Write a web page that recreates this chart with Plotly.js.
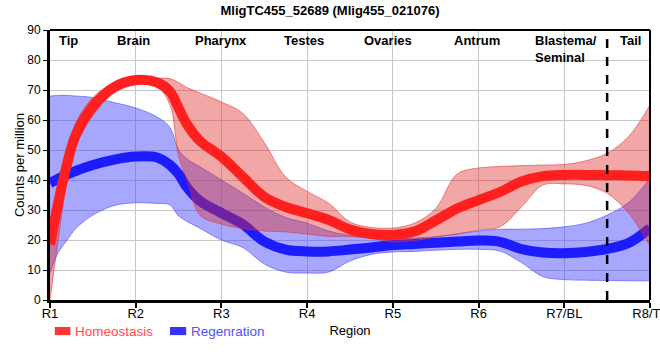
<!DOCTYPE html>
<html>
<head>
<meta charset="utf-8">
<script src="https://cdn.plot.ly/plotly-3.0.1.min.js"></script>
<style>
  html, body { margin: 0; padding: 0; background: #fff; }
  #chart { width: 660px; height: 360px; }
</style>
</head>
<body>
<div id="chart"></div>
<script>
// ---- data ----
const regionTicks = [1, 2, 3, 4, 5, 6, 7, 8];
const regionTickLabels = ['R1', 'R2', 'R3', 'R4', 'R5', 'R6', 'R7/BL', 'R8/TL'];
const regionNames = ['Tip', 'Brain', 'Pharynx', 'Testes', 'Ovaries', 'Antrum', 'Blastema/<br>Seminal', 'Tail'];

const xs = [1, 1.1, 1.2, 1.3, 1.5, 1.75, 2, 2.25, 2.4, 2.5, 2.6, 2.75, 3, 3.25, 3.5, 3.75,
            4, 4.25, 4.5, 4.75, 5, 5.25, 5.5, 5.75, 6, 6.25, 6.5, 6.75, 7, 7.25, 7.5, 7.75, 8];

const homMean = [18.5, 33, 45.5, 55, 64.5, 71, 73.3, 72.5, 69.5, 64, 58.5, 53, 47.8, 41, 34.4, 31,
                 28.9, 26.7, 23.5, 22, 21.7, 22.8, 26.5, 30.5, 33.3, 36, 39.5, 41.3, 41.7, 41.7, 41.6, 41.5, 41.3];
const homHi   = [22, 38, 50, 59, 67.5, 72.5, 74.4, 74, 73.8, 72.5, 70.8, 69, 66, 62.2, 52.5, 41,
                 36.2, 32.3, 26, 24.2, 24, 25.6, 30.5, 42, 44, 44.5, 44.8, 45, 45.2, 46.4, 48.9, 54.5, 65];
const homLo   = [0, 21, 40, 51, 61.5, 69, 71.7, 71, 65, 48, 40, 28.3, 25.3, 23.8, 23, 22.7,
                 22, 21.2, 21.2, 20.5, 19.4, 19.8, 21, 22, 23.3, 24.4, 31, 38.3, 38.7, 38.2, 35.6, 29, 18];

const regMean = [39, 40.5, 41.8, 43, 45, 46.8, 47.8, 47.5, 45, 42, 37.5, 33, 29, 25.2, 19.5, 16.8,
                 16.2, 16.2, 16.8, 17.5, 18.3, 18.7, 19.1, 19.5, 19.8, 19.4, 17, 15.8, 15.6, 16, 17, 19, 24];
const regHi   = [68, 68.2, 68.2, 68, 67.5, 65.8, 64, 61, 57.5, 50, 47, 44.4, 40, 35.6, 31, 27.5,
                 25.6, 23, 21.5, 20.7, 20.3, 20.7, 21.1, 22, 23, 23.6, 23.6, 23.8, 24.4, 25.6, 28.3, 32.5, 40.6];
const regLo   = [9, 16, 20, 23.8, 28.3, 31.5, 32.4, 32.2, 31.7, 28, 26.2, 23.9, 20, 17.5, 12, 9.3,
                 9, 9.3, 13, 15.2, 16, 16.2, 16.6, 16.9, 16.9, 16.3, 12.5, 7.8, 6.8, 6.6, 6.5, 6.4, 6.4];

const seriesNames = ['Homeostasis', 'Regenration'];

// ---- styles ----
const FONT = 'Liberation Sans, Arial, sans-serif';
const redLine = '#ff1f1f', redFill = 'rgba(225,45,45,0.42)', redEdge = 'rgba(220,50,50,0.55)';
const blueLine = '#1c1cff', blueFill = 'rgba(60,60,250,0.45)', blueEdge = 'rgba(60,60,250,0.55)';
const spl = {shape: 'spline', smoothing: 1};

const traces = [
  {x: xs, y: regHi, mode: 'lines', line: Object.assign({color: blueEdge, width: 1}, spl), showlegend: false, hoverinfo: 'skip'},
  {x: xs, y: regLo, mode: 'lines', fill: 'tonexty', fillcolor: blueFill, line: Object.assign({color: blueEdge, width: 1}, spl), showlegend: false, hoverinfo: 'skip'},
  {x: xs, y: regMean, mode: 'lines', name: seriesNames[1], line: Object.assign({color: blueLine, width: 10}, spl), showlegend: false},
  {x: xs, y: homHi, mode: 'lines', line: Object.assign({color: redEdge, width: 1}, spl), showlegend: false, hoverinfo: 'skip'},
  {x: xs, y: homLo, mode: 'lines', fill: 'tonexty', fillcolor: redFill, line: Object.assign({color: redEdge, width: 1}, spl), showlegend: false, hoverinfo: 'skip'},
  {x: xs, y: homMean, mode: 'lines', name: seriesNames[0], line: Object.assign({color: redLine, width: 10}, spl), showlegend: false}
];

const labelPos = [1.22, 1.97, 3.0, 3.96, 4.94, 5.98, 7.02, 7.77];
const annotations = regionNames.map((t, i) => ({
  x: labelPos[i], xref: 'x', y: 0.995, yref: 'paper', yanchor: 'top', xanchor: 'center',
  text: '<b>' + t + '</b>', showarrow: false, align: 'left',
  font: {family: FONT, size: 13, color: '#000'}
}));

// legend (drawn below the plot, left side)
const legendItems = [
  {name: seriesNames[0], swatch: '#ff3636', text: '#ff4a4a', x0: 0.008, x1: 0.034, tx: 0.04},
  {name: seriesNames[1], swatch: '#3434ff', text: '#5050ff', x0: 0.2, x1: 0.227, tx: 0.233}
];
const legendShapes = legendItems.map(it => ({
  type: 'rect', xref: 'paper', yref: 'paper', x0: it.x0, x1: it.x1, y0: -0.1, y1: -0.13,
  fillcolor: it.swatch, line: {width: 0}
}));
legendItems.forEach(it => annotations.push({
  x: it.tx, xref: 'paper', y: -0.115, yref: 'paper', xanchor: 'left', yanchor: 'middle',
  text: it.name, showarrow: false, borderpad: 0, font: {family: FONT, size: 13.5, color: it.text}
}));

const layout = {
  width: 660, height: 360,
  margin: {l: 50, r: 10, t: 30, b: 60},
  paper_bgcolor: '#fff', plot_bgcolor: '#fff',
  font: {family: FONT, size: 12, color: '#000'},
  title: {text: '<b>MligTC455_52689 (Mlig455_021076)</b>', x: 0.5, xanchor: 'center', y: 0.972, yanchor: 'middle',
          font: {family: FONT, size: 13, color: '#000'}},
  xaxis: {
    range: [1, 8], tickvals: regionTicks, ticktext: regionTickLabels,
    showgrid: true, gridcolor: '#c8c8c8', gridwidth: 1, zeroline: false,
    showline: true, linecolor: '#000', linewidth: 3,
    ticks: 'outside', ticklen: 5, tickwidth: 2, tickcolor: '#000',
    ticklabeloverflow: 'allow', ticklabelstandoff: -6,
    tickfont: {family: FONT, size: 13, color: '#000'},
    title: {text: 'Region', standoff: 7, font: {family: FONT, size: 13, color: '#000'}}
  },
  yaxis: {
    range: [0, 90], dtick: 10,
    showgrid: true, gridcolor: '#c8c8c8', gridwidth: 1, zeroline: false,
    showline: true, linecolor: '#000', linewidth: 3,
    ticks: 'outside', ticklen: 4, tickwidth: 1, tickcolor: '#000',
    tickfont: {family: FONT, size: 12, color: '#000'},
    title: {text: 'Counts per million', standoff: 0, font: {family: FONT, size: 13, color: '#000'}}
  },
  shapes: [
    {type: 'line', xref: 'x', yref: 'paper', x0: 7.5, x1: 7.5, y0: 0, y1: 1, line: {color: '#000', width: 2.5, dash: 'dash'}},
    {type: 'line', xref: 'paper', yref: 'paper', x0: 0, x1: 1, y0: 1, y1: 1, line: {color: '#000', width: 2}},
    {type: 'line', xref: 'paper', yref: 'paper', x0: 1, x1: 1, y0: 0, y1: 1, line: {color: '#000', width: 2}}
  ].concat(legendShapes),
  annotations: annotations,
  showlegend: false
};

Plotly.newPlot('chart', traces, layout, {displayModeBar: false, staticPlot: true});
</script>
</body>
</html>
